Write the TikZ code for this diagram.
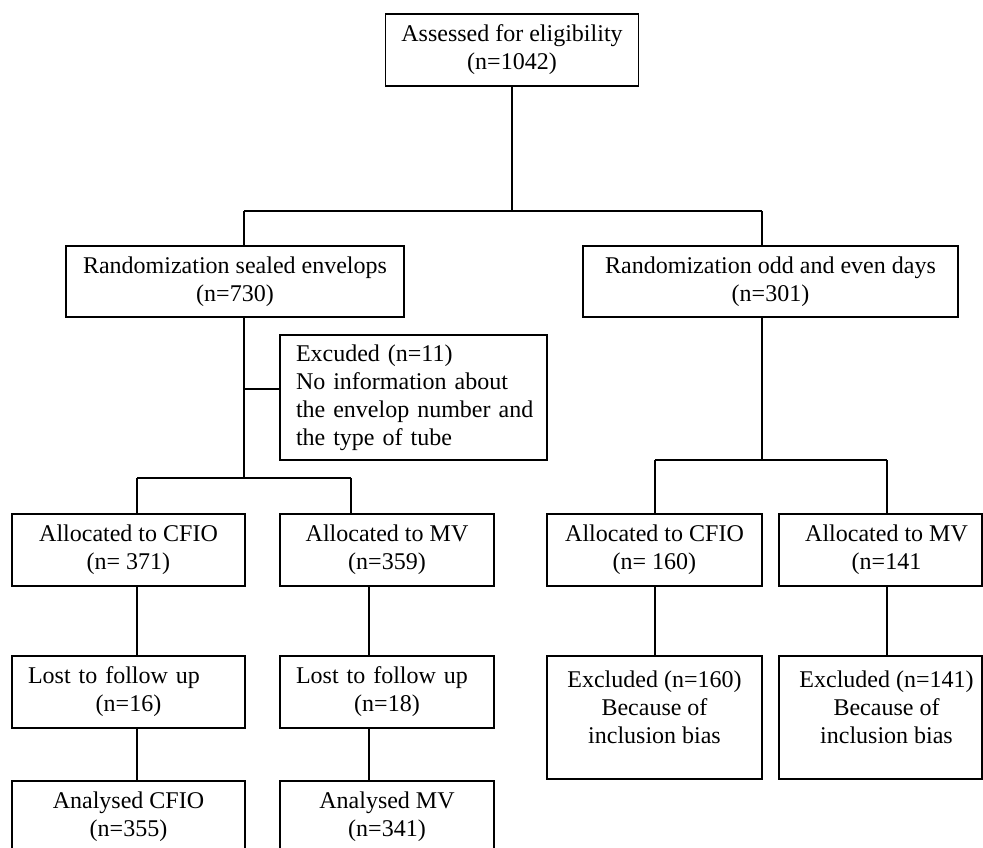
\documentclass[tikz,border=0pt]{standalone}
\usepackage{fontspec}
\setmainfont{Liberation Serif}
\begin{document}
\begin{tikzpicture}[x=1pt,y=-1pt,
  box/.style={draw=black, line width=1.6pt, rectangle, inner xsep=16pt, inner ysep=0pt,
    font=\fontsize{24}{28}\selectfont, align=center},
  conn/.style={draw=black, line width=1.2pt}]
\useasboundingbox (0,0) rectangle (983,847);
\clip (0,0) rectangle (983,847);
% boxes
\node[box, minimum width=250pt, minimum height=72pt] (top) at (512,50) {Assessed for eligibility\\(n=1042)};
\node[box, minimum width=338pt, minimum height=71pt] (randL) at (235,281.5) {Randomization sealed envelops\\(n=730)};
\node[box, minimum width=375pt, minimum height=71pt] (randR) at (770.5,281.5) {Randomization odd and even days\\(n=301)};
\node[box, minimum width=267pt, minimum height=125pt, text width=235pt, align=left] (exc) at (413.5,397.5) {Excuded (n=11)\\No information about\\\mbox{the envelop number and}\\the type of tube};
\node[box, minimum width=233pt, minimum height=72pt] (aL1) at (128.5,550) {Allocated to CFIO\\(n= 371)};
\node[box, minimum width=214pt, minimum height=72pt] (aL2) at (387,550) {Allocated to MV\\(n=359)};
\node[box, minimum width=215pt, minimum height=72pt] (aR1) at (654.5,550) {Allocated to CFIO\\(n= 160)};
\node[box, minimum width=203pt, minimum height=72pt, inner xsep=4pt] (aR2) at (880.5,550) {\hspace*{12pt}Allocated to MV\\\hspace*{12pt}(n=141};
\node[box, minimum width=233pt, minimum height=72pt, text width=201pt] (l1) at (128.5,692) {\makebox[201pt][l]{Lost to follow up}\\\makebox[201pt][c]{(n=16)}};
\node[box, minimum width=214pt, minimum height=72pt, text width=182pt] (l2) at (387,692) {\makebox[182pt][l]{Lost to follow up}\\\makebox[182pt][c]{(n=18)}};
\node[box, minimum width=215pt, minimum height=123pt] (eR1) at (654.5,717.5) {};
\node[font=\fontsize{24}{28}\selectfont, align=center, inner sep=0pt] (eR1t) at ([yshift=10pt]eR1.center) {Excluded (n=160)\\Because of\\inclusion bias};
\node[box, minimum width=203pt, minimum height=123pt] (eR2) at (880.5,717.5) {};
\node[font=\fontsize{24}{28}\selectfont, align=center, inner sep=0pt] (eR2t) at ([yshift=10pt, xshift=6pt]eR2.center) {Excluded (n=141)\\Because of\\inclusion bias};
\node[box, minimum width=233pt, minimum height=72pt] (an1) at (128.5,817) {Analysed CFIO\\(n=355)};
\node[box, minimum width=214pt, minimum height=72pt] (an2) at (387,817) {Analysed MV\\(n=341)};
% junction coordinates
\coordinate (j0) at (512,211);
\coordinate (jL) at (244,211);
\coordinate (jR) at (762,211);
\coordinate (bx) at (244,389);
\coordinate (tL) at (244,478);
\coordinate (tL1) at (137,478);
\coordinate (tL2) at (351,478);
\coordinate (tR) at (762,460);
\coordinate (tR1) at (655,460);
\coordinate (tR2) at (887,460);
\coordinate (cL1) at (137,0);
\coordinate (cL2) at (369,0);
% connectors
\draw[conn] (top.south) -- (j0);
\draw[conn] (jL) -- (jR);
\draw[conn] (jL) -- (jL |- randL.north);
\draw[conn] (jR) -- (jR |- randR.north);
\draw[conn] (jL |- randL.south) -- (tL);
\draw[conn] (bx) -- (bx -| exc.west);
\draw[conn] (tL1) -- (tL2);
\draw[conn] (tL1) -- (tL1 |- aL1.north);
\draw[conn] (tL2) -- (tL2 |- aL2.north);
\draw[conn] (jR |- randR.south) -- (tR);
\draw[conn] (tR1) -- (tR2);
\draw[conn] (tR1) -- (tR1 |- aR1.north);
\draw[conn] (tR2) -- (tR2 |- aR2.north);
\draw[conn] (cL1 |- aL1.south) -- (cL1 |- l1.north);
\draw[conn] (cL1 |- l1.south) -- (cL1 |- an1.north);
\draw[conn] (cL2 |- aL2.south) -- (cL2 |- l2.north);
\draw[conn] (cL2 |- l2.south) -- (cL2 |- an2.north);
\draw[conn] (tR1 |- aR1.south) -- (tR1 |- eR1.north);
\draw[conn] (tR2 |- aR2.south) -- (tR2 |- eR2.north);
\end{tikzpicture}
\end{document}
